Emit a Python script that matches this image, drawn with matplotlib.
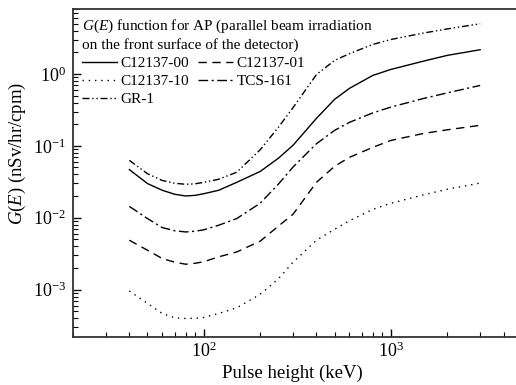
import matplotlib
matplotlib.use('Agg')
import matplotlib.pyplot as plt

plt.rcParams['font.family'] = ['Liberation Serif', 'DejaVu Serif']
plt.rcParams['mathtext.fontset'] = 'custom'
plt.rcParams['mathtext.rm'] = 'Liberation Serif'
plt.rcParams['mathtext.it'] = 'Liberation Serif:italic'

# pulse height (keV)
energy = [40, 50, 60, 70, 80, 90, 100, 120, 150, 200, 250, 300,
          400, 500, 600, 800, 1000, 1500, 2000, 3000]

# G(E) values (nSv/hr/cpm)
c00 = [0.0467, 0.0299, 0.0241, 0.0212, 0.0201, 0.0205, 0.0216, 0.0241, 0.0311, 0.0440,
       0.067, 0.102, 0.241, 0.443, 0.629, 0.953, 1.155, 1.51, 1.81, 2.17]
c01 = [0.00487, 0.00354, 0.00271, 0.00241, 0.00226, 0.00233, 0.00245, 0.00286, 0.00335, 0.00472,
       0.00762, 0.0112, 0.0311, 0.0519, 0.0692, 0.0953, 0.119, 0.149, 0.167, 0.193]
c10 = [0.00096, 0.000645, 0.000467, 0.000406, 0.000398, 0.0004, 0.000411, 0.000467, 0.00056, 0.00086,
       0.00141, 0.00241, 0.00487, 0.00692, 0.00908, 0.0131, 0.0159, 0.0209, 0.0249, 0.0304]
tcs161 = [0.0144, 0.00975, 0.0073, 0.0066, 0.00635, 0.0065, 0.0068, 0.00787, 0.00975, 0.0159,
          0.0292, 0.0508, 0.107, 0.164, 0.212, 0.287, 0.346, 0.457, 0.545, 0.692]
gr1 = [0.0629, 0.041, 0.033, 0.0302, 0.0292, 0.0297, 0.0311, 0.0343, 0.043, 0.088,
       0.18, 0.34, 0.98, 1.54, 1.91, 2.57, 3.01, 3.71, 4.22, 4.98]

fig = plt.figure(figsize=(5.16, 3.85), dpi=100)
ax = fig.add_axes([0.1415, 0.1247, 0.8695, 0.852])

lw = 1.0
ax.plot(energy, c00, color='black', lw=lw, ls='-', label='C12137-00')
ax.plot(energy, c10, color='black', lw=lw, ls=(0, (1, 3.5)), label='C12137-10')
ax.plot(energy, gr1, color='black', lw=lw, ls=(0, (5, 2, 1, 2, 1, 2)), label='GR-1')
ax.plot(energy, c01, color='black', lw=lw, ls=(0, (6, 4)), label='C12137-01')
ax.plot(energy, tcs161, color='black', lw=lw, ls=(0, (7, 2.5, 1.5, 2.5)), label='TCS-161')

ax.set_xscale('log')
ax.set_yscale('log')
ax.set_xlim(20, 5000)
ax.set_ylim(2.2e-4, 8)

ax.set_xlabel('Pulse height (keV)', fontsize=13.5, labelpad=0)
ax.set_ylabel(r'$G$($E$) (nSv/hr/cpm)', fontsize=13.5)
ax.xaxis.set_label_coords(0.488, -0.085)
ax.yaxis.set_label_coords(-0.10, 0.56)

ax.tick_params(which='both', direction='in', top=False, right=False, labelsize=13)
ax.tick_params(axis='y', pad=5)
ax.tick_params(which='major', length=6, width=1)
ax.tick_params(which='minor', length=3.5, width=0.8)
for s in ax.spines.values():
    s.set_linewidth(1.3)
    s.set_color('#333333')

leg = ax.legend(ncol=2, loc='upper left', frameon=False, fontsize=11,
                title=r'$G$($E$) function for AP (parallel beam irradiation' + '\n'
                      + 'on the front surface of the detector)',
                title_fontsize=11, handlelength=2.3, handletextpad=0.2,
                columnspacing=0.6, labelspacing=0.3, borderaxespad=0.4,
                borderpad=0.2)
leg._legend_box.align = 'left'

fig.savefig('out.png', dpi=100)
